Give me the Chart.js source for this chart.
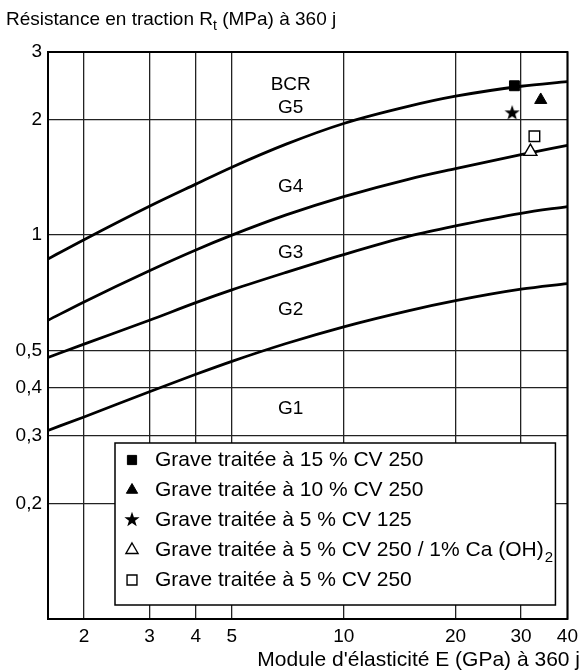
<!DOCTYPE html>
<html>
<head>
<meta charset="utf-8">
<script src="https://cdn.jsdelivr.net/npm/chart.js@4/dist/chart.umd.min.js"></script>
<style>
  html, body { margin: 0; padding: 0; background: #fff; }
  #wrap { width: 584px; height: 671px; }
</style>
</head>
<body>
<div id="wrap"><canvas id="chart"></canvas></div>
<script>
const FONT = '"Liberation Sans", Arial, Helvetica, sans-serif';

// boundary curves between classes (E in GPa, Rt in MPa)
const curveX  = [1.6, 2, 3, 4, 5, 7, 10, 15, 20, 30, 40];
const curveG5 = [0.867, 0.973, 1.189, 1.358, 1.503, 1.726, 1.954, 2.168, 2.301, 2.443, 2.512];
const curveG4 = [0.60, 0.67, 0.808, 0.915, 1.00, 1.129, 1.26, 1.40, 1.49, 1.62, 1.714];
const curveG3 = [0.48, 0.52, 0.60, 0.667, 0.72, 0.80, 0.89, 0.994, 1.057, 1.14, 1.187];
const curveG2 = [0.31, 0.336, 0.391, 0.434, 0.469, 0.522, 0.577, 0.636, 0.675, 0.723, 0.748];

// measured materials
const pointLabels = [
  'Grave traitée à 15 % CV 250',
  'Grave traitée à 10 % CV 250',
  'Grave traitée à 5 % CV 125',
  'Grave traitée à 5 % CV 250 / 1% Ca (OH)',
  'Grave traitée à 5 % CV 250',
];
const pointX = [28.8, 33.9, 28.4, 31.8, 32.6];
const pointY = [2.45, 2.25, 2.09, 1.65, 1.81];

// class labels
const zoneNames = ['BCR', 'G5', 'G4', 'G3', 'G2', 'G1'];
const zoneX = [7.2, 7.2, 7.2, 7.2, 7.2, 7.2];
const zoneY = [2.46, 2.15, 1.34, 0.90, 0.64, 0.352];

// axes
const xTicks = [2, 3, 4, 5, 10, 20, 30, 40];
const xTickLabels = ['2', '3', '4', '5', '10', '20', '30', '40'];
const yTicks = [0.2, 0.3, 0.4, 0.5, 1, 2, 3];
const yTickLabels = ['0,2', '0,3', '0,4', '0,5', '1', '2', '3'];

function starImage(size) {
  const c = document.createElement('canvas');
  c.width = c.height = size;
  const g = c.getContext('2d');
  g.beginPath();
  for (let i = 0; i < 10; i++) {
    const r = i % 2 ? size * 0.2 : size / 2;
    const a = -Math.PI / 2 + i * Math.PI / 5;
    g.lineTo(size / 2 + r * Math.cos(a), size / 2 + size * 0.05 + r * Math.sin(a));
  }
  g.closePath();
  g.fillStyle = '#000';
  g.fill();
  return c;
}
const star = starImage(16);

const markerStyles = [
  { pointStyle: 'rect', radius: 7, bg: '#000', border: '#000', bw: 1 },
  { pointStyle: 'triangle', radius: 7, bg: '#000', border: '#000', bw: 1 },
  { pointStyle: star, radius: 8, bg: '#000', border: '#000', bw: 0 },
  { pointStyle: 'triangle', radius: 7.5, bg: '#fff', border: '#000', bw: 1.4 },
  { pointStyle: 'rect', radius: 7.5, bg: '#fff', border: '#000', bw: 1.4 },
];

const curveSets = [curveG5, curveG4, curveG3, curveG2].map(ys => ({
  type: 'line',
  data: curveX.map((x, i) => ({ x, y: ys[i] })),
  borderColor: '#000',
  borderWidth: 2.8,
  pointRadius: 0,
  fill: false,
  cubicInterpolationMode: 'monotone',
  order: 2,
}));

const pointSets = pointLabels.map((lab, i) => ({
  type: 'scatter',
  label: lab,
  data: [{ x: pointX[i], y: pointY[i] }],
  pointStyle: markerStyles[i].pointStyle,
  pointRadius: markerStyles[i].radius,
  backgroundColor: markerStyles[i].bg,
  borderColor: markerStyles[i].border,
  borderWidth: markerStyles[i].bw,
  order: 1,
}));

const framePlugin = {
  id: 'frame',
  afterDraw(chart) {
    const { ctx, chartArea: a, scales } = chart;
    ctx.save();

    // plot frame
    ctx.strokeStyle = '#000';
    ctx.lineWidth = 2;
    ctx.strokeRect(a.left, a.top, a.right - a.left, a.bottom - a.top);

    // zone labels
    ctx.fillStyle = '#000';
    ctx.font = '19px ' + FONT;
    ctx.textAlign = 'center';
    ctx.textBaseline = 'middle';
    zoneNames.forEach((n, i) => {
      ctx.fillText(n, scales.x.getPixelForValue(zoneX[i]), scales.y.getPixelForValue(zoneY[i]));
    });

    // legend box
    const bx = a.left + 67, by = 443, bw = a.right - 12 - bx, bh = a.bottom - 14 - by;
    ctx.fillStyle = '#fff';
    ctx.fillRect(bx, by, bw, bh);
    ctx.strokeStyle = '#000';
    ctx.lineWidth = 1.5;
    ctx.strokeRect(bx, by, bw, bh);
    ctx.font = '21px ' + FONT;
    ctx.textAlign = 'left';
    pointLabels.forEach((lab, i) => {
      const y = by + 17 + i * 30;
      const m = markerStyles[i];
      ctx.fillStyle = m.bg;
      ctx.strokeStyle = m.border;
      ctx.lineWidth = m.bw;
      if (m.pointStyle === star) {
        ctx.drawImage(star, bx + 17 - 8, y - 9, 16, 16);
      } else {
        Chart.helpers.drawPoint(ctx, { pointStyle: m.pointStyle, radius: m.radius - 0.5, borderWidth: m.bw }, bx + 17, y);
      }
      ctx.fillStyle = '#000';
      ctx.fillText(lab, bx + 40, y);
      if (i === 3) {
        const w = ctx.measureText(lab).width;
        ctx.font = '15px ' + FONT;
        ctx.fillText('2', bx + 40 + w + 1, y + 8);
        ctx.font = '21px ' + FONT;
      }
    });

    // axis titles
    ctx.font = '19px ' + FONT;
    ctx.textBaseline = 'alphabetic';
    ctx.textAlign = 'left';
    const t1 = 'Résistance en traction R';
    ctx.fillText(t1, 6, 25);
    const w1 = ctx.measureText(t1).width;
    ctx.font = '14px ' + FONT;
    ctx.fillText('t', 6 + w1, 30);
    const w2 = ctx.measureText('t').width;
    ctx.font = '19px ' + FONT;
    ctx.fillText(' (MPa) à 360 j', 6 + w1 + w2, 25);

    ctx.font = '21px ' + FONT;
    ctx.textAlign = 'right';
    ctx.fillText("Module d'élasticité E (GPa) à 360 j", 580, 666);
    ctx.restore();
  }
};

new Chart(document.getElementById('chart'), {
  data: { datasets: [...pointSets, ...curveSets] },
  options: {
    responsive: true,
    maintainAspectRatio: false,
    animation: false,
    layout: { padding: { left: 0, top: 52, right: 7, bottom: 0 } },
    plugins: { legend: { display: false }, tooltip: { enabled: false } },
    scales: {
      x: {
        type: 'logarithmic',
        min: 1.6, max: 40,
        afterBuildTicks: ax => { ax.ticks = xTicks.map(v => ({ value: v })); },
        afterFit: ax => { ax.height = 52; },
        ticks: {
          autoSkip: false, maxRotation: 0, padding: 6,
          color: '#000', font: { family: FONT, size: 19 },
          callback: (v, i) => xTickLabels[i],
        },
        grid: { color: '#222', lineWidth: 1.3, drawTicks: false },
        border: { display: false },
      },
      y: {
        type: 'logarithmic',
        min: 0.1, max: 3,
        afterBuildTicks: ax => { ax.ticks = yTicks.map(v => ({ value: v })); },
        afterFit: ax => { ax.width = 48; },
        ticks: {
          autoSkip: false, padding: 6,
          color: '#000', font: { family: FONT, size: 19 },
          callback: (v, i) => yTickLabels[i],
        },
        grid: { color: '#222', lineWidth: 1.3, drawTicks: false },
        border: { display: false },
      },
    },
  },
  plugins: [framePlugin],
});
</script>
</body>
</html>
